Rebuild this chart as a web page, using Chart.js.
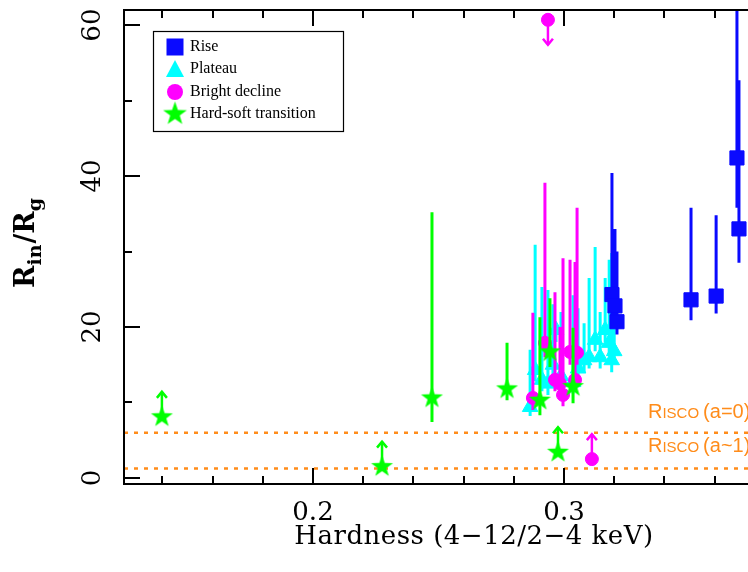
<!DOCTYPE html>
<html>
<head>
<meta charset="utf-8">
<script src="https://cdn.jsdelivr.net/npm/chart.js@4.4.1/dist/chart.umd.min.js"></script>
<style>
  html, body { margin: 0; padding: 0; background: #fff; }
  #wrap { width: 748px; height: 572px; }
</style>
</head>
<body>
<div id="wrap"><canvas id="c" width="748" height="572"></canvas></div>
<script>
// axis ranges and ticks
const xMin = 0.1247, xMax = 0.3733;
const yMin = -0.8, yMax = 62;
const xMajor = [0.2, 0.3];
const xMinor = [0.14, 0.16, 0.18, 0.22, 0.24, 0.26, 0.28, 0.32, 0.34, 0.36];
const yMajor = [0, 20, 40, 60];
const yMinor = [10, 30, 50];
const iscoLevels = [6, 1.24];

// Rise
const riseX  = [0.3191, 0.3203, 0.3211, 0.3506, 0.3606, 0.3689, 0.3697];
const riseY  = [24.3, 22.8, 20.7, 23.6, 24.1, 42.4, 33.0];
const riseLo = [21.0, 20.0, 19.0, 20.9, 21.8, 35.8, 28.5];
const riseHi = [40.4, 33.0, 30.0, 35.8, 34.8, 75.0, 52.7];

// Plateau
const plateauX  = [0.2865, 0.2885, 0.2912, 0.2936, 0.2956, 0.2968, 0.2988, 0.3036, 0.3056, 0.3080, 0.3100, 0.3124, 0.3144, 0.3164, 0.3180, 0.3190, 0.3200];
const plateauY  = [9.4, 14.3, 13.0, 12.5, 15.0, 19.6, 13.5, 12.7, 14.5, 15.6, 16.0, 18.3, 16.0, 19.6, 17.9, 15.6, 16.8];
const plateauLo = [8.2, 12.8, 11.5, 11.0, 13.5, 18.0, 12.0, 11.2, 13.0, 14.0, 14.5, 16.8, 14.5, 18.0, 16.2, 14.0, 15.2];
const plateauHi = [17.0, 30.9, 25.3, 24.9, 23.0, 20.0, 22.0, 24.2, 22.5, 20.5, 26.5, 30.6, 22.0, 26.5, 28.9, 29.8, 25.0];

// Bright decline
const brightX  = [0.2876, 0.2924, 0.2964, 0.2984, 0.2996, 0.3024, 0.3044, 0.3052];
const brightY  = [10.6, 17.9, 13.0, 12.5, 11.0, 16.7, 13.0, 16.6];
const brightLo = [9.0, 16.0, 11.5, 11.0, 9.5, 15.0, 11.5, 15.0];
const brightHi = [21.9, 39.1, 24.6, 20.0, 29.1, 28.9, 28.6, 35.8];
const brightUpX = [0.2936], brightUpY = [60.7];   // upper limit (arrow down)
const brightLowX = [0.3111], brightLowY = [2.5];  // lower limit (arrow up)

// Hard-soft transition
const transX  = [0.2474, 0.2773, 0.2904, 0.2944, 0.3036];
const transY  = [10.6, 11.8, 10.3, 16.7, 12.1];
const transLo = [7.4, 10.3, 8.3, 14.7, 9.9];
const transHi = [35.2, 17.9, 21.3, 23.8, 19.9];
const transLowX = [0.1398, 0.2275, 0.2976], transLowY = [8.1, 1.5, 3.4];

const BLUE = '#0a0aff', CYAN = '#00ffff', MAGENTA = '#ff00ff', GREEN = '#00ff00', ORANGE = '#ff8c1a';

function makeStar(r, color) {
  const cv = document.createElement('canvas');
  const s = Math.ceil(r * 2 + 2);
  cv.width = s; cv.height = s;
  const c = cv.getContext('2d');
  c.fillStyle = color;
  c.beginPath();
  for (let i = 0; i < 10; i++) {
    const rad = i % 2 ? r * 0.4 : r;
    const ang = -Math.PI / 2 + i * Math.PI / 5;
    c.lineTo(s / 2 + rad * Math.cos(ang), s / 2 + rad * Math.sin(ang));
  }
  c.closePath();
  c.fill();
  return cv;
}
const starPt = makeStar(11.5, GREEN);
const starLeg = makeStar(12.5, GREEN);

const pts = (xs, ys) => xs.map((x, i) => ({x: x, y: ys[i]}));
const bars = (xs, lo, hi) => xs.flatMap((x, i) => [{x: x, y: lo[i]}, {x: x, y: hi[i]}, {x: x, y: null}]);

function errSet(data, color, order) {
  return {data: data, showLine: true, spanGaps: false, borderColor: color, borderWidth: 3,
          pointRadius: 0, order: order};
}

// higher order is drawn first
const datasets = [
  ...iscoLevels.map(v => ({data: [{x: xMin, y: v}, {x: xMax, y: v}], showLine: true, borderColor: ORANGE,
    borderWidth: 2.5, borderDash: [4, 6], pointRadius: 0, order: 20})),
  errSet(bars(plateauX, plateauLo, plateauHi), CYAN, 9),
  {label: 'Plateau', data: pts(plateauX, plateauY), pointStyle: 'triangle', pointRadius: 9, backgroundColor: CYAN, borderColor: CYAN, order: 8},
  errSet(bars(riseX, riseLo, riseHi), BLUE, 7),
  {label: 'Rise', data: pts(riseX, riseY), pointStyle: 'rect', pointRadius: 10, backgroundColor: BLUE, borderColor: BLUE, order: 6},
  errSet(bars(brightX, brightLo, brightHi), MAGENTA, 5),
  {label: 'Bright decline', data: pts(brightX.concat(brightUpX, brightLowX), brightY.concat(brightUpY, brightLowY)),
    pointStyle: 'circle', pointRadius: 6.5, backgroundColor: MAGENTA, borderColor: MAGENTA, order: 4},
  errSet(bars(transX, transLo, transHi), GREEN, 3),
  {label: 'Hard-soft transition', data: pts(transX.concat(transLowX), transY.concat(transLowY)),
    pointStyle: starPt, order: 2}
];

function arrow(ctx, x, y, dir, color) {
  const len = 25 * dir, tip = y - len;
  ctx.strokeStyle = color; ctx.lineWidth = 2.5;
  ctx.beginPath(); ctx.moveTo(x, y); ctx.lineTo(x, tip); ctx.stroke();
  ctx.beginPath();
  ctx.moveTo(x - 5, tip + 6 * dir); ctx.lineTo(x, tip); ctx.lineTo(x + 5, tip + 6 * dir);
  ctx.stroke();
}

function richText(ctx, parts, x, y) {
  let cx = x;
  parts.forEach(p => {
    ctx.font = p.font;
    ctx.fillText(p.t, cx, y + (p.dy || 0));
    cx += ctx.measureText(p.t).width + (p.gap || 0);
  });
  return cx - x;
}

const decor = {
  id: 'decor',
  afterDatasetsDraw(chart) {
    const ctx = chart.ctx, xs = chart.scales.x, ys = chart.scales.y, a = chart.chartArea;
    const px = v => xs.getPixelForValue(v), py = v => ys.getPixelForValue(v);
    ctx.save();
    // limit arrows
    transLowX.forEach((x, i) => arrow(ctx, px(x), py(transLowY[i]), 1, GREEN));
    brightLowX.forEach((x, i) => arrow(ctx, px(x), py(brightLowY[i]), 1, MAGENTA));
    brightUpX.forEach((x, i) => arrow(ctx, px(x), py(brightUpY[i]), -1, MAGENTA));

    // frame
    ctx.strokeStyle = '#000'; ctx.lineWidth = 2;
    ctx.beginPath();
    ctx.moveTo(a.right, a.top); ctx.lineTo(a.left, a.top); ctx.lineTo(a.left, a.bottom); ctx.lineTo(a.right, a.bottom);
    ctx.stroke();
    ctx.beginPath();
    xMajor.concat(xMinor).forEach(v => {
      const L = xMajor.includes(v) ? 16 : 8, x = Math.round(px(v));
      ctx.moveTo(x, a.bottom); ctx.lineTo(x, a.bottom - L);
      ctx.moveTo(x, a.top); ctx.lineTo(x, a.top + L);
    });
    yMajor.concat(yMinor).forEach(v => {
      const L = yMajor.includes(v) ? 16 : 8, y = Math.round(py(v));
      ctx.moveTo(a.left, y); ctx.lineTo(a.left + L, y);
    });
    ctx.stroke();

    // tick labels
    ctx.fillStyle = '#000';
    ctx.font = '26px "DejaVu Serif"';
    ctx.textAlign = 'center'; ctx.textBaseline = 'middle';
    xMajor.forEach(v => ctx.fillText(String(v), px(v), 513));
    yMajor.forEach(v => {
      ctx.save(); ctx.translate(93, py(v)); ctx.rotate(-Math.PI / 2);
      ctx.fillText(String(v), 0, 0); ctx.restore();
    });

    // x title
    ctx.font = '26px "DejaVu Serif"';
    ctx.letterSpacing = '0.5px';
    ctx.fillText('Hardness (4\u221212/2\u22124 keV)', 474, 537);
    ctx.letterSpacing = '0px';

    // y title
    ctx.save();
    ctx.translate(34, 243); ctx.rotate(-Math.PI / 2);
    ctx.textAlign = 'left'; ctx.textBaseline = 'alphabetic';
    const big = 'bold 27px "DejaVu Serif"', small = 'bold 19px "DejaVu Serif"';
    const yParts = [{t: 'R', font: big}, {t: 'in', font: small, dy: 7, gap: 1}, {t: '/R', font: big}, {t: 'g', font: small, dy: 7}];
    ctx.globalAlpha = 0; const w = richText(ctx, yParts, 0, 0); ctx.globalAlpha = 1;
    richText(ctx, yParts, -w / 2, 0);
    ctx.restore();

    // ISCO labels
    ctx.fillStyle = ORANGE; ctx.textAlign = 'left'; ctx.textBaseline = 'alphabetic';
    const isco = (txt, y) => richText(ctx, [
      {t: 'R', font: '20px "Liberation Sans"'},
      {t: 'ISCO', font: '15px "Liberation Sans"', gap: 4},
      {t: txt, font: '20px "Liberation Sans"'}], 648, y);
    isco('(a=0)', 418);
    isco('(a~1)', 452);

    // legend
    ctx.strokeStyle = '#000'; ctx.lineWidth = 1.2;
    ctx.strokeRect(153.5, 31.5, 190, 100);
    const lx = 175;
    ctx.fillStyle = BLUE; ctx.fillRect(lx - 8.5, 47 - 8.5, 17, 17);
    ctx.fillStyle = CYAN; ctx.beginPath();
    ctx.moveTo(lx, 60); ctx.lineTo(lx + 9, 77); ctx.lineTo(lx - 9, 77); ctx.closePath(); ctx.fill();
    ctx.fillStyle = MAGENTA; ctx.beginPath(); ctx.arc(lx, 92, 8, 0, Math.PI * 2); ctx.fill();
    ctx.drawImage(starLeg, lx - starLeg.width / 2, 114 - starLeg.height / 2);
    ctx.fillStyle = '#000'; ctx.font = '16px "Liberation Serif"'; ctx.textBaseline = 'middle';
    [['Rise', 47], ['Plateau', 69], ['Bright decline', 92], ['Hard-soft transition', 114]].forEach(e => ctx.fillText(e[0], 190, e[1]));
    ctx.restore();
  }
};

new Chart(document.getElementById('c'), {
  type: 'scatter',
  data: {datasets: datasets},
  options: {
    responsive: false,
    animation: false,
    devicePixelRatio: 1,
    layout: {autoPadding: false, padding: {top: 10, right: 0, left: 0, bottom: 0}},
    plugins: {legend: {display: false}, tooltip: {enabled: false}},
    scales: {
      x: {type: 'linear', min: xMin, max: xMax, grid: {display: false}, border: {display: false},
          ticks: {display: false}, afterFit: s => { s.height = 88; }},
      y: {type: 'linear', min: yMin, max: yMax, grid: {display: false}, border: {display: false},
          ticks: {display: false}, afterFit: s => { s.width = 124; }}
    }
  },
  plugins: [decor]
});
</script>
</body>
</html>
